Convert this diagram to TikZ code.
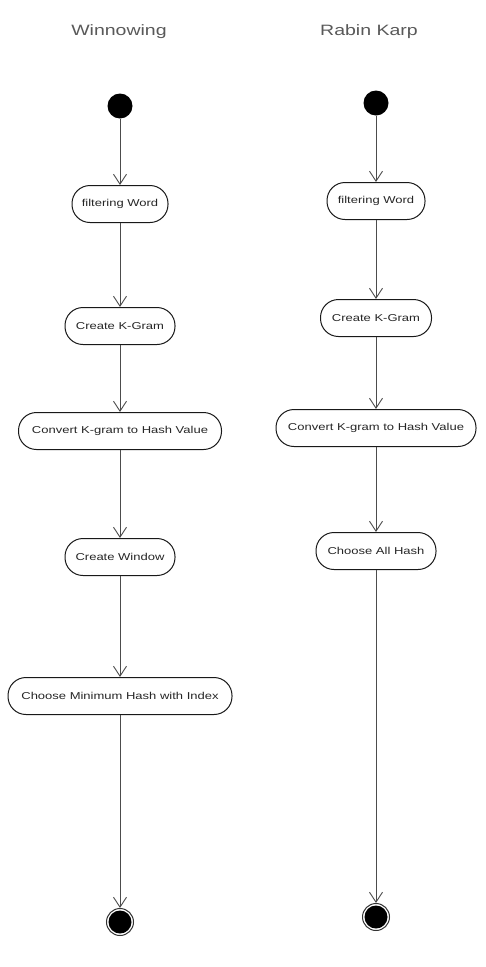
\documentclass[tikz,border=0pt]{standalone}
\usepackage{fontspec}
\setmainfont{Liberation Sans}
\newfontfamily\nodefont[FakeStretch=1.3]{Liberation Sans}
\usetikzlibrary{arrows.meta}
\begin{document}
\begin{tikzpicture}[x=1pt,y=-1pt,
  act/.style={draw=black!90, line width=1pt, rounded corners=18pt, minimum height=37pt, inner sep=0pt, font=\nodefont\fontsize{10}{12}\selectfont, text=black!85},
  startnode/.style={circle, fill=black, minimum size=25pt, inner sep=0pt},
  endring/.style={circle, draw=black!80, line width=1pt, minimum size=27pt, inner sep=0pt},
  title/.style={font=\nodefont\fontsize{15}{18}\selectfont, text=black!65},
  arr/.style={draw=black!70, line width=0.9pt, -{Straight Barb[length=10pt,width=13pt]}}
]
\useasboundingbox (0,0) rectangle (486,967);
\fill[white] (0,0) rectangle (486,967);

% titles
\node[title] (t1) at (119,32) {Winnowing};
\node[title] (t2) at (369,32) {Rabin Karp};

% left column
\node[startnode] (ls) at (120,106) {};
\node[act, minimum width=96pt] (l1) at (120,204) {filtering Word};
\node[act, minimum width=110pt] (l2) at (120,326) {Create K-Gram};
\node[act, minimum width=203pt] (l3) at (120,431) {Convert K-gram to Hash Value};
\node[act, minimum width=110pt] (l4) at (120,557) {Create Window};
\node[act, minimum width=224pt] (l5) at (120,696) {Choose Minimum Hash with Index};
\node[endring] (le) at (120,922) {};
\fill[black] (le.center) circle (11.5pt);

\draw[arr] (ls) -- (l1);
\draw[arr] (l1) -- (l2);
\draw[arr] (l2) -- (l3);
\draw[arr] (l3) -- (l4);
\draw[arr] (l4) -- (l5);
\draw[arr] (l5) -- (le);

% right column
\node[startnode] (rs) at (376,103) {};
\node[act, minimum width=98pt] (r1) at (376,201) {filtering Word};
\node[act, minimum width=111pt] (r2) at (376,318) {Create K-Gram};
\node[act, minimum width=200pt] (r3) at (376,428) {Convert K-gram to Hash Value};
\node[act, minimum width=120pt] (r4) at (376,551) {Choose All Hash};
\node[endring] (re) at (376,917) {};
\fill[black] (re.center) circle (11.5pt);

\draw[arr] (rs) -- (r1);
\draw[arr] (r1) -- (r2);
\draw[arr] (r2) -- (r3);
\draw[arr] (r3) -- (r4);
\draw[arr] (r4) -- (re);
\end{tikzpicture}
\end{document}
